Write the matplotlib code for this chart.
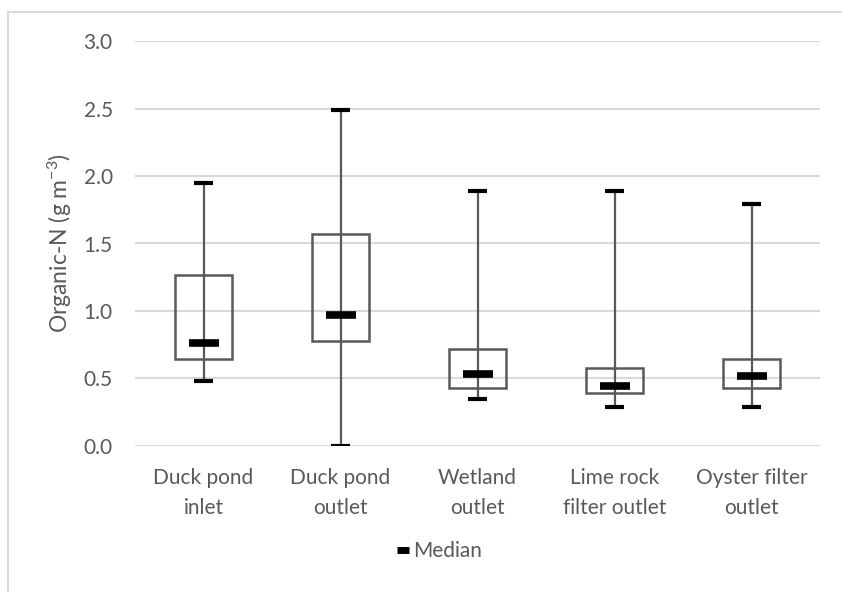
import matplotlib
matplotlib.use("Agg")
import matplotlib.pyplot as plt
from matplotlib.lines import Line2D

categories = ["Duck pond\ninlet", "Duck pond\noutlet", "Wetland\noutlet",
              "Lime rock\nfilter outlet", "Oyster filter\noutlet"]
whisker_max = [1.95, 2.49, 1.89, 1.89, 1.79]
q3 = [1.27, 1.57, 0.72, 0.58, 0.64]
median = [0.76, 0.97, 0.53, 0.445, 0.52]
q1 = [0.64, 0.78, 0.43, 0.39, 0.43]
whisker_min = [0.48, 0.0, 0.35, 0.29, 0.29]
yticks = [0.0, 0.5, 1.0, 1.5, 2.0, 2.5, 3.0]

plt.rcParams['font.family'] = ['Lato', 'DejaVu Sans']
plt.rcParams['mathtext.fontset'] = 'custom'
plt.rcParams['mathtext.rm'] = 'Lato'
plt.rcParams['mathtext.it'] = 'Lato'
W, H = 842, 592
fig = plt.figure(figsize=(W/100, H/100), dpi=100)
ax = fig.add_axes([135/W, 1-445.7/H, (820-135)/W, (445.7-41.3)/H])

gray = '#595959'
x = list(range(len(categories)))
bw = 0.41
for i in x:
    ax.vlines(i, whisker_min[i], whisker_max[i], color=gray, lw=1.6, zorder=3)
    ax.add_patch(plt.Rectangle((i-bw/2, q1[i]), bw, q3[i]-q1[i], fill=False,
                               edgecolor=gray, lw=1.8, zorder=3))
    ax.hlines([whisker_min[i], whisker_max[i]], i-0.07, i+0.07, color='black', lw=3, zorder=4)
ax.plot(x, median, ls='none', marker='_', ms=21, mew=5.5, color='black', zorder=5)

ax.set_xlim(-0.5, 4.5)
ax.set_ylim(0, 3.0)
ax.set_yticks(yticks)
ax.set_yticklabels([f"{v:.1f}" for v in yticks])
ax.set_xticks(x)
ax.set_xticklabels(categories, linespacing=1.65)
ax.tick_params(axis='both', length=0, labelsize=15, labelcolor=gray)
ax.tick_params(axis='y', pad=16)
ax.tick_params(axis='x', pad=16)
ax.grid(axis='y', color='#d9d9d9', lw=1.5)
ax.set_axisbelow(True)
for s in ax.spines.values():
    s.set_visible(False)
ax.set_ylabel("Organic-N (g m$^{\\mathregular{-3}}$)", fontsize=16.5, color=gray)
ax.yaxis.set_label_coords((74-135)/685, 0.5)

h = Line2D([], [], ls='none', marker='_', ms=9, mew=5, color='black')
fig.legend([h], ["Median"], loc='center', bbox_to_anchor=(440/W, 1-551/H),
           frameon=False, fontsize=15, labelcolor=gray, handlelength=0.5,
           handletextpad=0.2)

fig.add_artist(Line2D([8/W, 8/W], [0, 1-12/H], color='#d9d9d9', lw=1.5))
fig.add_artist(Line2D([8/W, 1], [1-12/H, 1-12/H], color='#d9d9d9', lw=1.5))

fig.savefig("out.png", dpi=100)
